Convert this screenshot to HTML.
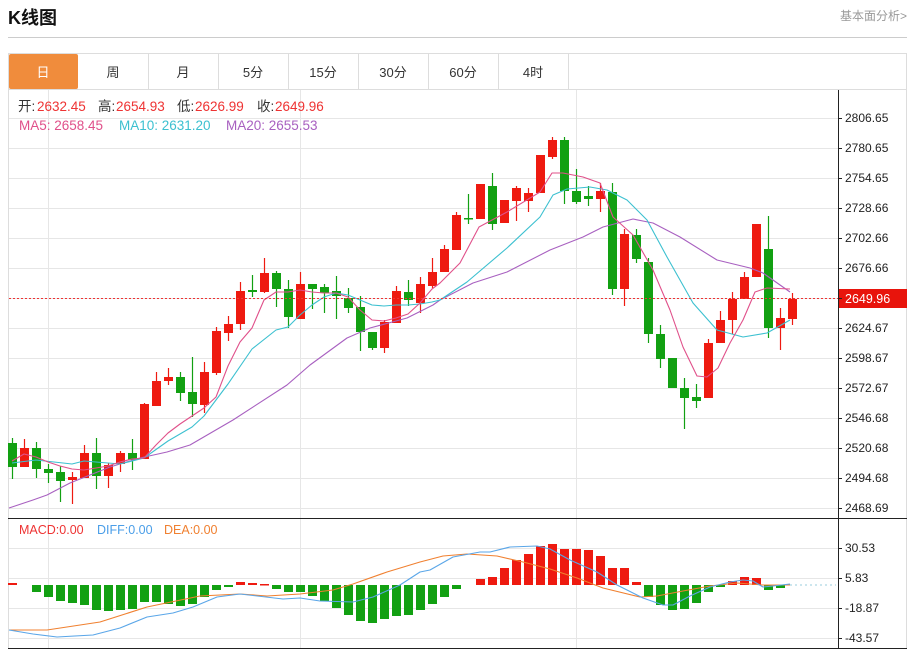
<!DOCTYPE html>
<html><head><meta charset="utf-8"><style>
html,body{margin:0;padding:0;background:#fff;width:914px;height:650px;overflow:hidden;font-family:"Liberation Sans","Noto Sans CJK SC",sans-serif}
svg{position:absolute;left:0;top:0}
</style></head><body>
<svg id="s" width="914" height="650" xmlns="http://www.w3.org/2000/svg" font-family="Liberation Sans, Noto Sans CJK SC, sans-serif">
<text x="8" y="24" font-size="18" font-weight="bold" fill="#111">K线图</text>
<text x="907" y="20" font-size="12" fill="#999" text-anchor="end">基本面分析&gt;</text>
<line x1="8" y1="37.5" x2="907" y2="37.5" stroke="#ccc"/>
<rect x="8.5" y="53.5" width="898" height="595" fill="none" stroke="#ddd"/>
<line x1="8" y1="89.5" x2="907" y2="89.5" stroke="#ddd"/>
<rect x="9" y="54" width="69" height="35" fill="#f08c3c" rx="2"/>
<g stroke="#ddd"><line x1="148.5" y1="54" x2="148.5" y2="89"/><line x1="218.5" y1="54" x2="218.5" y2="89"/><line x1="288.5" y1="54" x2="288.5" y2="89"/><line x1="358.5" y1="54" x2="358.5" y2="89"/><line x1="428.5" y1="54" x2="428.5" y2="89"/><line x1="498.5" y1="54" x2="498.5" y2="89"/><line x1="568.5" y1="54" x2="568.5" y2="89"/></g>
<g font-size="13" text-anchor="middle" fill="#333">
<text x="43" y="77" fill="#fff">日</text><text x="113" y="77">周</text><text x="183" y="77">月</text><text x="253" y="77">5分</text><text x="323" y="77">15分</text><text x="393" y="77">30分</text><text x="463" y="77">60分</text><text x="533" y="77">4时</text>
</g>
<g id="grid" stroke="#e6e6e6" stroke-width="1"></g>
<g stroke="#222"><line x1="838.5" y1="90" x2="838.5" y2="648"/><line x1="8" y1="518.5" x2="907" y2="518.5"/><line x1="8" y1="648.5" x2="907" y2="648.5"/></g>
<g font-size="12" fill="#222" id="ax">
<text x="845" y="122">2806.65</text><text x="845" y="152">2780.65</text><text x="845" y="182">2754.65</text><text x="845" y="212">2728.66</text><text x="845" y="242">2702.66</text><text x="845" y="272">2676.66</text><text x="845" y="332">2624.67</text><text x="845" y="362">2598.67</text><text x="845" y="392">2572.67</text><text x="845" y="422">2546.68</text><text x="845" y="452">2520.68</text><text x="845" y="482">2494.68</text><text x="845" y="512">2468.69</text>
<text x="845" y="552">30.53</text><text x="845" y="582">5.83</text><text x="845" y="612">-18.87</text><text x="845" y="642">-43.57</text>
</g>
<g font-size="13.5">
<text x="18" y="111" fill="#333">开:</text><text x="37" y="111" fill="#e33">2632.45</text>
<text x="98" y="111" fill="#333">高:</text><text x="116" y="111" fill="#e33">2654.93</text>
<text x="177" y="111" fill="#333">低:</text><text x="195" y="111" fill="#e33">2626.99</text>
<text x="257" y="111" fill="#333">收:</text><text x="275" y="111" fill="#e33">2649.96</text>
<text x="19" y="130" fill="#e0508a">MA5: 2658.45</text>
<text x="119" y="130" fill="#3cc0d0">MA10: 2631.20</text>
<text x="226" y="130" fill="#a860c0">MA20: 2655.53</text>
</g>
<g font-size="12.5">
<text x="19" y="534" fill="#e33">MACD:0.00</text><text x="97" y="534" fill="#4a9ee8">DIFF:0.00</text><text x="164" y="534" fill="#f08030">DEA:0.00</text>
</g>
<g id="c"></g>
<line x1="9" y1="298.5" x2="838" y2="298.5" stroke="#e33" stroke-dasharray="2,2"/>
<line x1="790" y1="585" x2="836" y2="585" stroke="#9cd" stroke-dasharray="2,3"/>
<rect x="839" y="289" width="68" height="19" fill="#e8140c"/>
<text x="845" y="303" font-size="12.5" fill="#fff">2649.96</text>
</svg>
<script>
var NS="http://www.w3.org/2000/svg",g=document.getElementById('grid'),c=document.getElementById('c');
function el(p,t,a){var e=document.createElementNS(NS,t);for(var k in a)e.setAttribute(k,a[k]);p.appendChild(e);return e;}
for(var y=118;y<=508;y+=30){el(g,'line',{x1:9,y1:y+.5,x2:838,y2:y+.5});}
[548,578,608,638].forEach(function(y){el(g,'line',{x1:9,y1:y+.5,x2:838,y2:y+.5});});
[48,300,576].forEach(function(x){el(g,'line',{x1:x+.5,y1:90,x2:x+.5,y2:648});});
var ax=document.getElementById('s');
for(var y=118;y<=508;y+=30){el(ax,'line',{x1:838,y1:y+.5,x2:842,y2:y+.5,stroke:'#222'});}
[548,578,608,638,298].forEach(function(y){el(ax,'line',{x1:838,y1:y+.5,x2:842,y2:y+.5,stroke:'#222'});});
var R='#ee1a10',G='#12a012';
var K=[[443,467,438,479,0],[448,467,439,467,1],[448,469,442,478,0],[469,473,464,483,0],[472,481,466,502,0],[477,480,472,504,1],[453,478,445,478,1],[453,476,438,489,0],[465,476,463,488,1],[453,464,451,472,1],[453,460,439,470,0],[404,459,403,459,1],[381,406,372,406,1],[377,381,368,385,1],[377,393,372,401,0],[392,404,357,417,0],[372,405,362,413,1],[331,373,327,375,1],[324,333,316,341,1],[291,324,282,330,1],[290,292,275,297,0],[273,292,258,293,1],[273,289,271,307,0],[289,317,280,328,0],[284,319,272,319,1],[284,289,284,309,0],[287,293,284,313,0],[291,296,276,319,0],[298,308,288,313,0],[307,332,296,351,0],[332,348,332,350,0],[322,348,320,353,1],[291,323,286,323,1],[292,300,280,306,0],[284,303,277,313,1],[272,286,258,288,1],[249,272,245,272,1],[215,250,212,250,1],[218,219,194,224,0],[184,219,184,219,1],[186,224,173,230,0],[200,223,200,223,1],[188,201,186,221,1],[193,201,188,212,1],[155,193,155,193,1],[140,157,137,159,1],[140,191,137,204,0],[191,202,169,204,0],[196,199,186,206,0],[191,199,183,212,1],[192,289,183,295,0],[234,289,229,306,1],[235,259,229,263,0],[262,334,258,343,0],[334,359,325,368,0],[358,388,358,388,0],[388,398,378,429,0],[397,401,384,408,0],[343,398,339,398,1],[320,343,311,343,1],[299,320,292,334,1],[277,299,272,299,1],[224,277,224,277,1],[249,328,216,338,0],[318,328,308,350,1],[299,319,293,325,1]];
K.forEach(function(k,i){var x=12+12*i,col=k[4]?R:G;
el(c,'line',{x1:x+.5,y1:k[2],x2:x+.5,y2:k[3],stroke:col,'stroke-width':1.2});
el(c,'rect',{x:x-4,y:k[0],width:9,height:Math.max(1.5,k[1]-k[0]),fill:col});});
var M={0:583,2:592,3:597,4:601,5:603,6:605,7:610,8:611,9:610,10:609,11:602,12:602,13:604,14:606,15:604,16:597,17:590,18:587,19:582,20:583,21:584,22:589,23:592,24:592,25:596,26:601,27:608,28:615,29:621,30:623,31:619,32:616,33:615,34:610,35:604,36:597,37:589,39:579,40:577,41:568,42:560,43:554,44:546,45:544,46:549,47:549,48:550,49:556,50:568,51:568,52:582,53:597,54:605,55:610,56:609,57:603,58:592,59:587,60:581,61:577,62:578,63:590,64:588};
for(var i in M){var v=M[i],x=12+12*i,red=v<585;var y0=Math.min(v,585),h=Math.max(1.5,Math.abs(v-585));
el(c,'rect',{x:x-4,y:y0,width:9,height:h,fill:red?R:G});}
function pl(pts,col,w){el(c,'polyline',{points:pts.map(function(p){return p.join(',')}).join(' '),fill:'none',stroke:col,'stroke-width':w||1.1,'stroke-linejoin':'round'});}
pl([[9,508],[33,500],[47,495],[70,483],[110,467],[140,458],[167,452],[190,445],[233,420],[287,385],[310,365],[347,338],[370,328],[407,318],[433,305],[440,300],[473,283],[507,272],[550,250],[583,237],[603,227],[633,219],[653,223],[680,237],[717,260],[750,268],[763,273],[790,292]],'#a860c0');
pl([[12,463],[36,460],[72,464],[84,461],[120,464],[144,458],[168,441],[192,427],[204,416],[228,384],[252,349],[276,330],[288,327],[300,315],[312,305],[324,297],[336,293],[348,295],[360,300],[372,305],[384,306],[396,305],[408,305],[420,304],[432,302],[440,300],[467,282],[507,248],[540,217],[553,195],[567,189],[590,187],[607,190],[627,200],[647,220],[667,257],[693,303],[717,330],[743,337],[767,333],[790,320]],'#3cc0d0');
pl([[12,461],[24,454],[36,457],[48,462],[60,466],[72,469],[84,470],[96,468],[108,466],[120,462],[132,459],[144,458],[156,445],[168,433],[180,424],[192,416],[204,408],[216,397],[228,366],[240,342],[252,328],[264,300],[276,292],[288,292],[300,290],[312,292],[324,293],[336,293],[348,297],[360,310],[372,320],[384,321],[396,318],[408,314],[420,303],[432,289],[440,283],[460,263],[479,227],[507,212],[540,192],[552,173],[563,173],[583,177],[600,183],[613,217],[633,235],[653,270],[670,310],[683,347],[697,376],[707,377],[718,368],[730,343],[743,320],[755,292],[767,288],[790,289]],'#e0508a');
pl([[9,630],[47,630],[100,622],[147,607],[200,596],[240,594],[267,596],[300,594],[333,590],[353,584],[387,572],[420,562],[443,556],[467,554],[497,556],[523,562],[550,569],[577,578],[603,588],[640,597],[657,596],[683,591],[710,586],[737,583],[763,585],[790,585]],'#f08030');
pl([[9,630],[33,634],[57,637],[93,635],[120,628],[147,617],[173,613],[193,607],[217,597],[240,594],[283,599],[300,598],[320,601],[353,602],[373,597],[400,585],[420,572],[430,570],[453,557],[480,552],[490,552],[510,547],[537,546],[550,549],[570,560],[597,572],[617,585],[643,598],[663,605],[673,605],[690,596],[710,587],[730,582],[743,580],[753,581],[763,587],[773,586],[790,584]],'#5aa6e8');
</script>
</body></html>
